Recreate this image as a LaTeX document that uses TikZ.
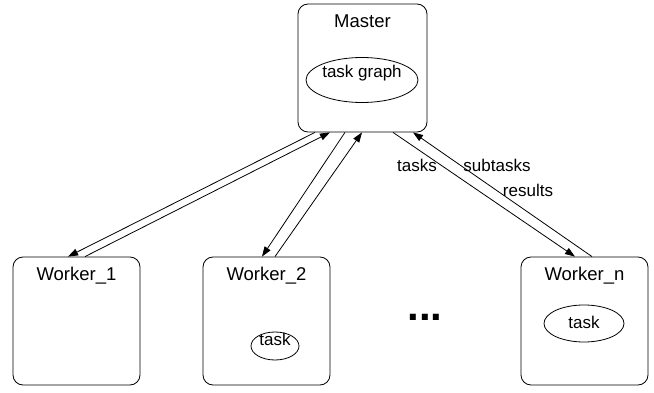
\documentclass[tikz,border=0pt]{standalone}
\usepackage{fontspec}
\setmainfont{Liberation Sans}
\usetikzlibrary{arrows.meta,positioning,shapes.geometric}

\begin{document}
\begin{tikzpicture}[
    x=1pt, y=-1pt,
    line width=0.8pt,
    box/.style={draw, rounded corners=10pt, minimum width=127pt, minimum height=128pt, inner sep=0pt},
    oval/.style={draw, ellipse, inner sep=0pt},
    title/.style={font=\fontsize{18.5}{22}\selectfont, inner sep=0pt},
    txt/.style={font=\fontsize{17}{20}\selectfont, inner sep=0pt},
    link/.style={-{Triangle[length=10pt,width=7pt]}}
]
\useasboundingbox (0,0) rectangle (654,393);

% Master
\node[box, minimum width=129pt] (master) at (362.5,68) {};
\node[title, yshift=-18pt] (mastertitle) at (master.north) {Master};
\node[oval, minimum width=112pt, minimum height=45pt] (taskgraph) at (362,80) {};
\node[txt, yshift=6.5pt] (taskgraphtext) at (taskgraph) {task graph};

% Workers
\node[box] (worker1) at (76.5,321) {};
\node[title, yshift=-19pt] (worker1title) at (worker1.north) {Worker\_1};

\node[box] (worker2) at (266.5,321) {};
\node[title, yshift=-19pt] (worker2title) at (worker2.north) {Worker\_2};
\node[oval, minimum width=48pt, minimum height=28pt] (task2) at (275,346) {};
\node[txt, yshift=7pt] (task2text) at (task2) {task};

\node[box] (workern) at (584.5,321) {};
\node[title, yshift=-19pt] (workerntitle) at (workern.north) {Worker\_n};
\node[oval, minimum width=80pt, minimum height=37pt] (taskn) at (584,323.5) {};
\node[txt, yshift=1.5pt] (taskntext) at (taskn) {task};

\node[font=\fontsize{42}{44}\selectfont\bfseries, inner sep=0pt, anchor=base] (dots) at (425,320) {...};

% Connections
\draw[link] ([xshift=-47.5pt]master.south) -- ([xshift=-8.5pt]worker1.north);
\draw[link] ([xshift=8.5pt]worker1.north) -- ([xshift=-32.5pt]master.south);

\draw[link] ([xshift=-17.5pt]master.south) -- ([xshift=-4.5pt]worker2.north);
\draw[link] ([xshift=8.5pt]worker2.north) -- ([xshift=-0.5pt]master.south);

\draw[link] ([xshift=30.5pt]master.south) -- ([xshift=-9.5pt]workern.north);
\draw[link] ([xshift=7.5pt]workern.north) -- ([xshift=50.5pt]master.south);

% Labels
\node[txt] (tasks) at (417,165) {tasks};
\node[txt] (subtasks) at (497,165) {subtasks};
\node[txt] (results) at (528,190) {results};

\end{tikzpicture}
\end{document}
